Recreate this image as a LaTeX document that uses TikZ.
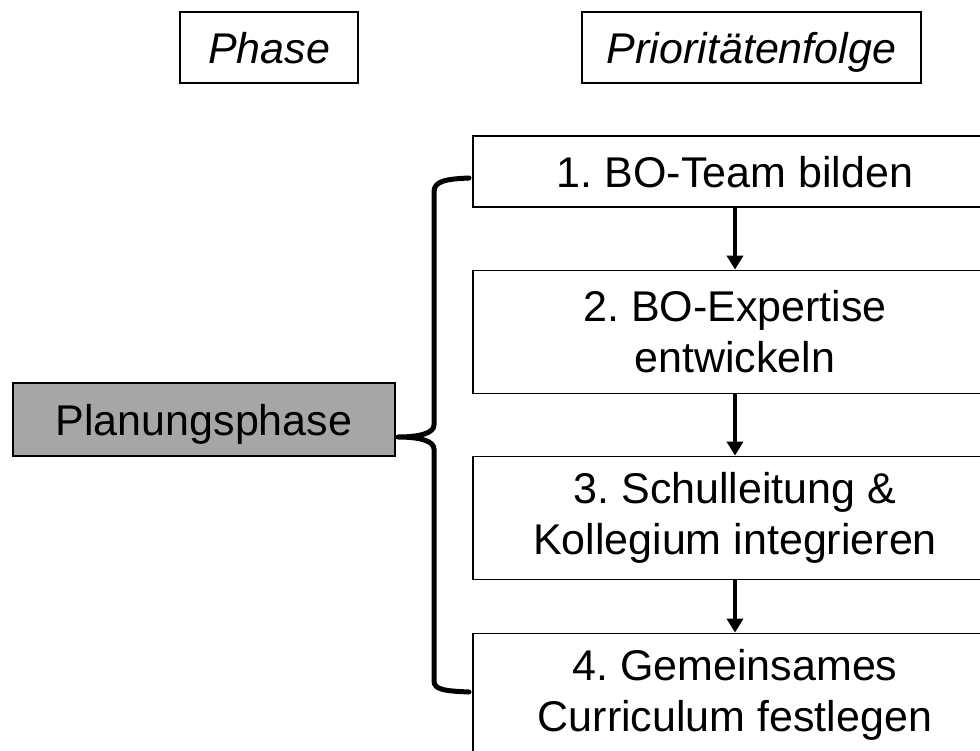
\documentclass[tikz,border=0pt]{standalone}
\usepackage{fontspec}
\setmainfont{Liberation Sans}
\usetikzlibrary{arrows.meta}
\frenchspacing
\begin{document}
\begin{tikzpicture}[x=1pt,y=-1pt,
  box/.style={draw=black, line width=1.8pt, rectangle, inner sep=0pt,
    align=center, font=\fontsize{43}{51}\selectfont, text=black},
  onebox/.style={box, text height=32pt, text depth=1pt},
  headbox/.style={onebox, font=\fontsize{43}{51}\selectfont\itshape, minimum height=71pt},
  stepbox/.style={box, minimum width=524pt},
  flow/.style={line width=3.5pt, -{Triangle[length=14pt,width=16pt]}},
  bracket/.style={line width=5pt, line cap=round, line join=round}]
  \useasboundingbox (0,0) rectangle (980,750);
  \clip (0,0) rectangle (980,750);

  % column headings
  \node[headbox, minimum width=178pt] (phase) at (269,47.5) {Phase};
  \node[headbox, minimum width=339pt] (prio) at (751.5,47.5) {Prioritätenfolge};

  % phase box
  \node[onebox, fill={rgb,255:red,166;green,166;blue,166}, minimum width=382pt,
        minimum height=73pt] (plan) at (204,419.5) {Planungsphase};

  % priority steps
  \node[stepbox, onebox, minimum height=71pt] (s1) at (735,171.5) {1. BO-Team bilden};
  \node[stepbox, minimum height=123pt] (s2) at (735,332) {2. BO-Expertise\\entwickeln};
  \node[stepbox, minimum height=123pt] (s3) at (735,518) {3. Schulleitung \&\\Kollegium integrieren};
  \node[stepbox, minimum height=123pt] (s4) at (735,695) {4. Gemeinsames\\Curriculum festlegen};

  \draw[flow] (s1.south) -- (s2.north);
  \draw[flow] (s2.south) -- (s3.north);
  \draw[flow] (s3.south) -- (s4.north);

  % curly bracket grouping the steps
  \coordinate (bt) at (469,178);
  \coordinate (bb) at (469,692);
  \coordinate (tip) at (398,437);
  \draw[bracket] (bt) .. controls (446,179) and (434,181) .. (434,192)
    -- (434,425) .. controls (434,433) and (420,437) .. (tip)
    .. controls (420,437) and (434,441) .. (434,449)
    -- (434,681) .. controls (434,690) and (446,691) .. (bb);
\end{tikzpicture}
\end{document}
